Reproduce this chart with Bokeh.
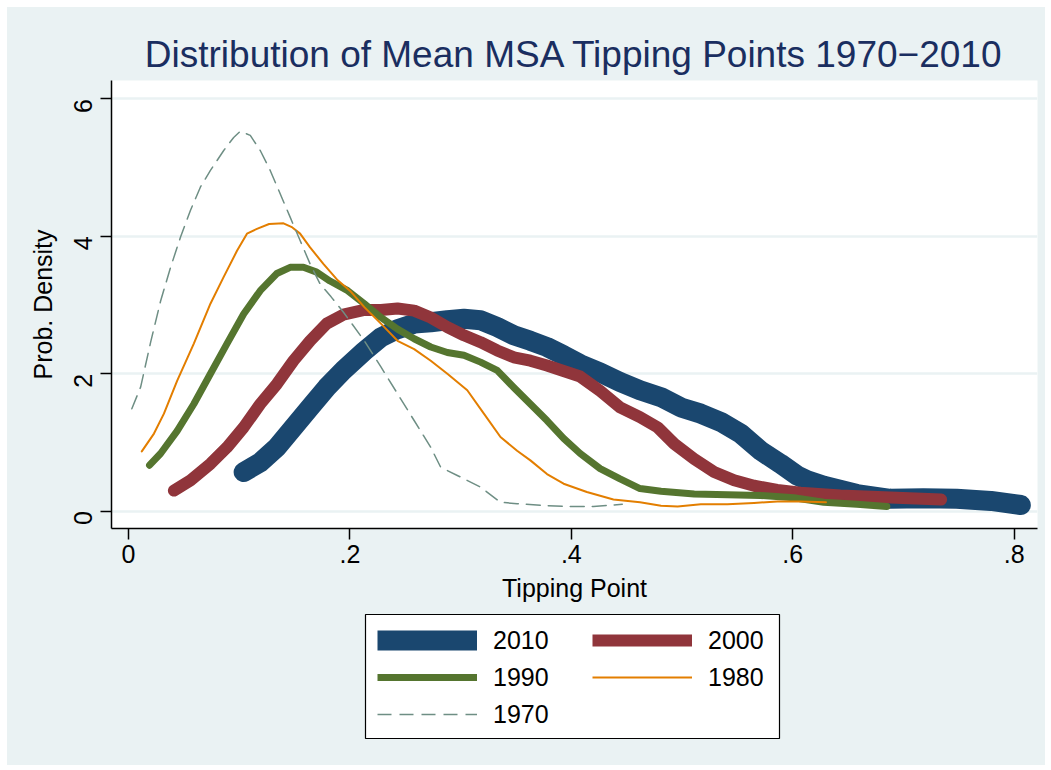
import math
from bokeh.plotting import figure
from bokeh.models import Legend, LegendItem, FixedTicker, Range1d, Spacer
from bokeh.layouts import column, row
from bokeh.embed import file_html
from bokeh.resources import INLINE

# ---- data ----
years = ["2010", "2000", "1990", "1980", "1970"]

x_2010 = [0.104, 0.119, 0.134, 0.149, 0.164, 0.179, 0.194, 0.213, 0.228, 0.243, 0.258, 0.273, 0.288,
          0.303, 0.318, 0.333, 0.348, 0.363, 0.378, 0.393, 0.408, 0.426, 0.444, 0.462, 0.481, 0.499,
          0.517, 0.535, 0.553, 0.571, 0.589, 0.604, 0.613, 0.628, 0.658, 0.688, 0.718, 0.748, 0.779, 0.806]
y_2010 = [0.57, 0.71, 0.93, 1.22, 1.51, 1.80, 2.05, 2.33, 2.53, 2.65, 2.73, 2.75, 2.78,
          2.80, 2.78, 2.68, 2.56, 2.48, 2.39, 2.27, 2.14, 2.02, 1.88, 1.76, 1.66, 1.51,
          1.42, 1.30, 1.13, 0.88, 0.69, 0.52, 0.45, 0.37, 0.25, 0.18, 0.19, 0.18, 0.15, 0.09]

x_2000 = [0.041, 0.056, 0.074, 0.089, 0.104, 0.119, 0.134, 0.149, 0.164, 0.179, 0.194, 0.213, 0.228,
          0.243, 0.258, 0.273, 0.288, 0.303, 0.318, 0.333, 0.348, 0.363, 0.378, 0.393, 0.408, 0.426,
          0.444, 0.462, 0.478, 0.493, 0.511, 0.529, 0.547, 0.565, 0.586, 0.607, 0.643, 0.688, 0.734]
y_2000 = [0.30, 0.45, 0.69, 0.93, 1.22, 1.56, 1.85, 2.19, 2.48, 2.73, 2.86, 2.93, 2.93,
          2.95, 2.92, 2.82, 2.68, 2.56, 2.46, 2.34, 2.24, 2.19, 2.12, 2.04, 1.96, 1.75,
          1.51, 1.37, 1.22, 0.98, 0.76, 0.57, 0.45, 0.37, 0.31, 0.27, 0.23, 0.20, 0.17]

x_1990 = [0.019, 0.029, 0.044, 0.059, 0.074, 0.089, 0.104, 0.119, 0.134, 0.146, 0.158, 0.170, 0.182,
          0.198, 0.213, 0.228, 0.243, 0.258, 0.273, 0.288, 0.303, 0.318, 0.333, 0.348, 0.363, 0.378,
          0.393, 0.408, 0.426, 0.444, 0.462, 0.481, 0.511, 0.541, 0.571, 0.601, 0.628, 0.658, 0.685]
y_1990 = [0.67, 0.84, 1.17, 1.56, 2.00, 2.44, 2.87, 3.21, 3.46, 3.55, 3.55, 3.48, 3.35,
          3.21, 3.02, 2.82, 2.65, 2.51, 2.39, 2.31, 2.27, 2.17, 2.05, 1.80, 1.56, 1.32,
          1.06, 0.84, 0.62, 0.47, 0.33, 0.29, 0.25, 0.24, 0.23, 0.195, 0.13, 0.10, 0.07]

x_1980 = [0.012, 0.023, 0.032, 0.044, 0.059, 0.074, 0.086, 0.098, 0.107, 0.116, 0.127, 0.140, 0.148,
          0.155, 0.164, 0.176, 0.189, 0.200, 0.213, 0.228, 0.243, 0.258, 0.273, 0.288, 0.306, 0.321,
          0.336, 0.351, 0.363, 0.378, 0.393, 0.414, 0.438, 0.462, 0.481, 0.496, 0.517, 0.541, 0.565,
          0.586, 0.607, 0.630]
y_1980 = [0.87, 1.13, 1.42, 1.90, 2.44, 3.02, 3.41, 3.79, 4.04, 4.11, 4.18, 4.19, 4.13,
          4.04, 3.84, 3.60, 3.36, 3.21, 2.97, 2.73, 2.48, 2.36, 2.19, 2.00, 1.76, 1.42,
          1.08, 0.88, 0.74, 0.54, 0.40, 0.28, 0.17, 0.13, 0.08, 0.07, 0.10, 0.10, 0.12,
          0.14, 0.14, 0.13]

x_1970 = [0.003, 0.011, 0.020, 0.029, 0.038, 0.047, 0.056, 0.065, 0.074, 0.086, 0.095, 0.101, 0.110,
          0.119, 0.128, 0.137, 0.146, 0.155, 0.164, 0.173, 0.183, 0.194, 0.213, 0.228, 0.243, 0.258,
          0.273, 0.282, 0.297, 0.318, 0.336, 0.351, 0.378, 0.399, 0.420, 0.446]
y_1970 = [1.49, 1.81, 2.46, 3.06, 3.55, 3.99, 4.38, 4.72, 4.96, 5.25, 5.44, 5.53, 5.47,
          5.25, 4.96, 4.62, 4.28, 3.94, 3.60, 3.31, 3.12, 2.90, 2.48, 2.10, 1.71, 1.32,
          0.93, 0.64, 0.52, 0.35, 0.13, 0.11, 0.08, 0.07, 0.07, 0.10]

x_ticks = [0, 0.2, 0.4, 0.6, 0.8]
x_tick_labels = ["0", ".2", ".4", ".6", ".8"]
y_ticks = [0, 2, 4, 6]
y_tick_labels = ["0", "2", "4", "6"]

title_text = "Distribution of Mean MSA Tipping Points 1970\u22122010"
x_label = "Tipping Point"
y_label = "Prob. Density"

# ---- styling ----
FONT = "Liberation Sans"
BG = "#EAF2F3"
colors = {"2010": "#1a476f", "2000": "#90353b", "1990": "#55752f", "1980": "#e37e00", "1970": "#6e8e84"}
widths = {"2010": 20, "2000": 12, "1990": 7, "1980": 2, "1970": 1.5}
dashes = {"2010": "solid", "2000": "solid", "1990": "solid", "1980": "solid", "1970": "14 8"}

series = {"2010": (x_2010, y_2010), "2000": (x_2000, y_2000), "1990": (x_1990, y_1990),
          "1980": (x_1980, y_1980), "1970": (x_1970, y_1970)}

# main chart: page x 7..1045, y 7..611 ; frame x 111..1037, y 80..528
p = figure(width=1038, height=604, output_backend="svg", toolbar_location=None,
           x_range=Range1d(-0.01536, 0.82106), y_range=Range1d(-0.2518, 6.269),
           min_border_left=104, min_border_right=8, min_border_top=73, min_border_bottom=83,
           background_fill_color="white", border_fill_color=BG, outline_line_color=None,
           frame_align=False)

p.title.text = title_text
p.title.align = "center"
p.title.text_font = FONT
p.title.text_font_size = "37px"
p.title.text_font_style = "normal"
p.title.text_color = "#1a2e60"
p.title.standoff = 11

for yr in years:
    xs, ys = series[yr]
    p.line(xs, ys, line_color=colors[yr], line_width=widths[yr], line_dash=dashes[yr],
           line_cap="round", line_join="round")

p.xaxis.ticker = FixedTicker(ticks=x_ticks)
p.xaxis.major_label_overrides = {t: l for t, l in zip(x_ticks, x_tick_labels)}
p.yaxis.ticker = FixedTicker(ticks=y_ticks)
p.yaxis.major_label_overrides = {t: l for t, l in zip(y_ticks, y_tick_labels)}
p.yaxis.major_label_orientation = math.pi / 2
p.xaxis.axis_label = x_label
p.yaxis.axis_label = y_label
for ax in (p.xaxis[0], p.yaxis[0]):
    ax.axis_line_color = "black"
    ax.axis_line_width = 1.5
    ax.major_tick_line_color = "black"
    ax.major_tick_line_width = 1.5
    ax.major_tick_out = 11
    ax.major_tick_in = 0
    ax.minor_tick_line_color = None
    ax.major_label_text_font = FONT
    ax.major_label_text_font_size = "25px"
    ax.major_label_text_color = "black"
    ax.axis_label_text_font = FONT
    ax.axis_label_text_font_size = "25px"
    ax.axis_label_text_font_style = "normal"
    ax.axis_label_text_color = "black"
p.xaxis.major_label_standoff = 5
p.xaxis.axis_label_standoff = 8
p.yaxis.major_label_standoff = 17
p.yaxis.axis_label_standoff = 6

p.xgrid.grid_line_color = None
p.ygrid.grid_line_color = BG
p.ygrid.grid_line_width = 2.5

# legend strip: page y 611..765 ; legend box (its frame) x 365..779, y 614..738
pl = figure(width=1038, height=154, output_backend="svg", toolbar_location=None,
            x_range=Range1d(10, 11), y_range=Range1d(10, 11),
            min_border_left=358, min_border_right=266, min_border_top=3, min_border_bottom=27,
            background_fill_color="white", border_fill_color=BG,
            outline_line_color="black", outline_line_width=1.2, frame_align=False)
pl.axis.visible = False
pl.grid.visible = False

# legend-only renderers (the data lie outside this strip's ranges, only the legend samples show)
legend_renderers = {}
for yr in years:
    xs, ys = series[yr]
    legend_renderers[yr] = pl.line(xs, ys, line_color=colors[yr], line_width=widths[yr],
                                   line_dash=dashes[yr], line_cap="butt")

common = dict(glyph_width=100, glyph_height=30, label_standoff=16, spacing=7, padding=8, margin=0,
              label_text_font=FONT, label_text_font_size="25px", label_text_color="black",
              border_line_alpha=0, background_fill_alpha=0, click_policy="none")
legA = Legend(items=[LegendItem(label=yr, renderers=[legend_renderers[yr]]) for yr in ["2010", "1990", "1970"]],
              location=(4, 1), **common)
legB = Legend(items=[LegendItem(label=yr, renderers=[legend_renderers[yr]]) for yr in ["2000", "1980"]],
              location=(219, 38), **common)
pl.add_layout(legA)
pl.add_layout(legB)

inner = column(p, pl, spacing=0, styles={"background-color": BG})
layout = column(Spacer(height=7), row(Spacer(width=7), inner, spacing=0), spacing=0)

open("out.html", "w").write(file_html(layout, INLINE))
